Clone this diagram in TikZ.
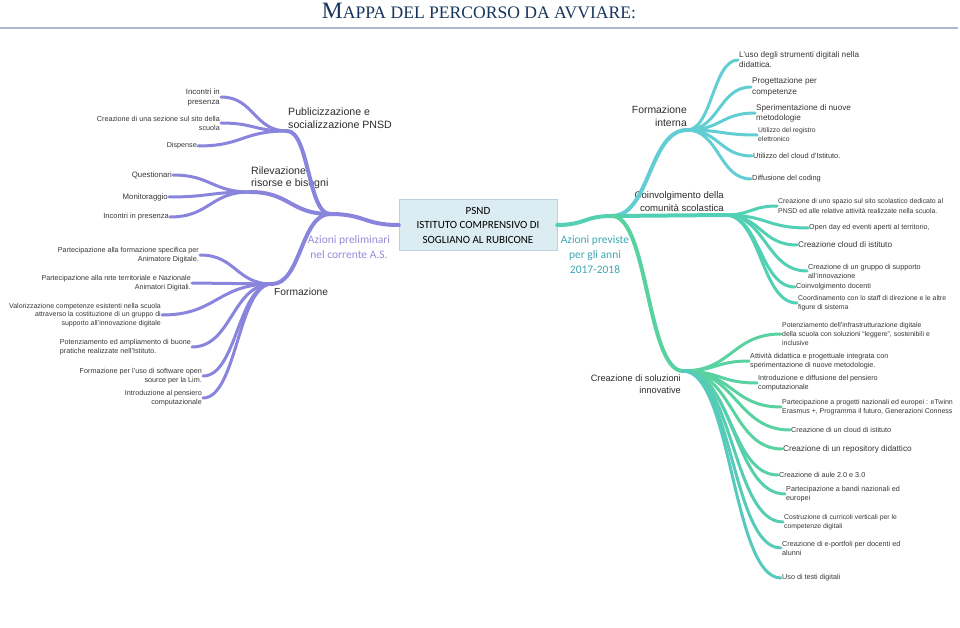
\documentclass[tikz,border=0pt]{standalone}
\usepackage{fontspec}
\setmainfont{Liberation Sans}
\newfontfamily\calfont{Carlito}
\newfontfamily\titlefont{Liberation Serif}
\usetikzlibrary{calc}
\definecolor{lv}{RGB}{137,132,220}
\definecolor{lvt}{RGB}{150,140,218}
\definecolor{rt}{RGB}{84,208,178}
\definecolor{ci}{RGB}{98,205,210}
\definecolor{cc}{RGB}{82,208,180}
\definecolor{cs}{RGB}{88,210,160}
\definecolor{cs2}{RGB}{85,200,195}
\definecolor{rtt}{RGB}{62,168,180}
\definecolor{txt}{RGB}{55,55,55}
\definecolor{hdt}{RGB}{45,45,45}
\definecolor{boxf}{RGB}{219,236,242}
\definecolor{boxd}{RGB}{185,210,220}
\definecolor{ttl}{RGB}{23,54,93}
\definecolor{tline}{RGB}{170,186,204}
\tikzset{
  lf/.style={font=\fontsize{7.2}{9}\selectfont, text=txt, inner sep=1pt},
  lfL/.style={lf, anchor=east, align=right},
  lfR/.style={lf, anchor=west, align=left},
  hd/.style={font=\fontsize{10.6}{12.5}\selectfont, text=hdt, inner sep=0pt},
  hdr/.style={font=\fontsize{9.6}{13}\selectfont, text=hdt, inner sep=0pt},
  trunk/.style={line width=4pt, line cap=round},
  twig/.style={line width=3pt, line cap=round},
  big/.style={font=\fontsize{8.2}{10}\selectfont},
}
\begin{document}
\begin{tikzpicture}[x=1pt,y=-1pt]
\useasboundingbox (0,0) rectangle (960,628);
\fill[white] (0,0) rectangle (960,628);

% title
\node[text=ttl, inner sep=0pt] (title) at (479,11) {\resizebox{314pt}{!}{\titlefont\fontsize{24}{24}\selectfont M\fontsize{18}{18}\selectfont APPA DEL PERCORSO DA AVVIARE:}};
\coordinate (tl) at (0,28);
\coordinate (tr) at (958,28);
\draw[line width=1.5pt, tline] (tl) -- (tr);

% center
\node[draw=boxd, fill=boxf, minimum width=158pt, minimum height=51pt, inner sep=0pt, align=center,
      font=\calfont\fontsize{11}{14.5}\selectfont, text=black] (c) at (478,225) {PSND\\ISTITUTO COMPRENSIVO DI\\SOGLIANO AL RUBICONE};

% junctions
\coordinate (L0) at (330,214);
\coordinate (jP) at (287,131);
\coordinate (jR) at (250,192);
\coordinate (jF) at (272,284);
\coordinate (R0) at (612,216);
\coordinate (jI) at (687,130);
\coordinate (jC) at (725,215);
\coordinate (jS) at (683,371);

% headings
\node[hd, anchor=west, align=left] (tP) at (288,118) {Publicizzazione e\\socializzazione PNSD};
\node[hd, anchor=west, align=left] (tR) at (251,178) {Rilevazione\\risorse e bisogni};
\node[hd, anchor=west, font=\fontsize{10.2}{12}\selectfont] (tF) at (274,292) {Formazione};
\node[font=\calfont\fontsize{11.5}{15}\selectfont, text=lvt, align=center, inner sep=0pt] (aL) at (349,247) {Azioni preliminari\\nel corrente A.S.};
\node[font=\calfont\fontsize{11.5}{15}\selectfont, text=rtt, align=center, inner sep=0pt] (aR) at (595,255) {Azioni previste\\per gli anni\\2017-2018};
\node[hdr, anchor=east, align=right, font=\fontsize{10.4}{13}\selectfont] (tI) at (687,116) {Formazione\\interna};
\node[hdr, anchor=east, align=right] (tC) at (724,202) {Coinvolgimento della\\comunità scolastica};
\node[hdr, anchor=east, align=right, font=\fontsize{9.2}{12}\selectfont] (tS) at (681,384) {Creazione di soluzioni\\innovative};

% trunks
\draw[trunk, lv] (c.west) .. controls +(-35,0) and +(35,0) .. (L0);
\draw[trunk, lv] (L0) .. controls +(-22,0) and +(22,0) .. (jP);
\draw[trunk, lv] (L0) .. controls +(-40,0) and +(40,0) .. (jR);
\draw[trunk, lv] (L0) .. controls +(-29,0) and +(29,0) .. (jF);
\draw[trunk, rt] (c.east) .. controls +(28,0) and +(-28,0) .. (R0);
\draw[trunk, ci] (R0) .. controls +(38,0) and +(-38,0) .. (jI);
\draw[trunk, cc] (R0) .. controls +(56,0) and +(-56,0) .. (jC);
\draw[trunk, cs] (R0) .. controls +(36,0) and +(-36,0) .. (jS);

% left leaves
\node[lfL, font=\fontsize{7.8}{10}\selectfont] (p1) at (221,97) {Incontri in\\presenza};
\node[lfL] (p2) at (221,123) {Creazione di una sezione sul sito della\\scuola};
\node[lfL] (p3) at (198,146) {Dispense};
\node[lfL, font=\fontsize{7.8}{9}\selectfont] (r1) at (173,175) {Questionari};
\node[lfL, font=\fontsize{7.8}{9}\selectfont] (r2) at (169,197) {Monitoraggio};
\node[lfL, font=\fontsize{7.5}{9}\selectfont] (r3) at (170,217) {Incontri in presenza};
\node[lfL] (f1) at (200,255) {Partecipazione alla formazione specifica per\\Animatore Digitale.};
\node[lfL] (f2) at (192,283) {Partecipazione alla rete territoriale e Nazionale\\Animatori Digitali.};
\node[lfL, font=\fontsize{7}{8.3}\selectfont] (f3) at (162,315) {Valorizzazione competenze esistenti nella scuola\\attraverso la costituzione di un gruppo di\\supporto all'innovazione digitale};
\node[lf, anchor=east, align=left] (f4) at (192,347) {Potenziamento ed ampliamento di buone\\pratiche realizzate nell'Istituto.};
\node[lfL] (f5) at (203,376) {Formazione per l'uso di software open\\source per la Lim.};
\node[lfL] (f6) at (203,398) {Introduzione al pensiero\\computazionale};

\draw[twig, lv] (jP) .. controls +(-33,0) and +(33,0) .. (p1.east);
\draw[twig, lv] (jP) .. controls +(-33,0) and +(33,0) .. (p2.east);
\draw[twig, lv] (jP) .. controls +(-45,0) and +(45,0) .. (p3.east);
\draw[twig, lv] (jR) .. controls +(-38,0) and +(38,0) .. (r1.east);
\draw[twig, lv] (jR) .. controls +(-40,0) and +(40,0) .. (r2.east);
\draw[twig, lv] (jR) .. controls +(-40,0) and +(40,0) .. (r3.east);
\draw[twig, lv] (jF) .. controls +(-36,0) and +(36,0) .. (f1.east);
\draw[twig, lv] (jF) .. controls +(-40,0) and +(40,0) .. (f2.east);
\draw[twig, lv] (jF) .. controls +(-55,0) and +(55,0) .. (f3.east);
\draw[twig, lv] (jF) .. controls +(-40,0) and +(40,0) .. (f4.east);
\draw[twig, lv] (jF) .. controls +(-34,0) and +(34,0) .. (f5.east);
\draw[twig, lv] (jF) .. controls +(-34,0) and +(34,0) .. (f6.east);

% right: formazione interna
\node[lfR, font=\fontsize{8.2}{10}\selectfont] (i1) at (738,60) {L'uso degli strumenti digitali nella\\didattica.};
\node[lfR, font=\fontsize{8.2}{10.5}\selectfont] (i2) at (751,87) {Progettazione per\\competenze};
\node[lfR, font=\fontsize{8.2}{10}\selectfont] (i3) at (755,113) {Sperimentazione di nuove\\metodologie};
\node[lfR, font=\fontsize{6.8}{9}\selectfont] (i4) at (757,135) {Utilizzo del registro\\elettronico};
\node[lfR, font=\fontsize{7.4}{9}\selectfont] (i5) at (752,156) {Utilizzo del cloud d'Istituto.};
\node[lfR, font=\fontsize{7.4}{9}\selectfont] (i6) at (751,179) {Diffusione del coding};
\draw[twig, ci] (jI) .. controls +(25,0) and +(-25,0) .. (i1.west);
\draw[twig, ci] (jI) .. controls +(32,0) and +(-32,0) .. (i2.west);
\draw[twig, ci] (jI) .. controls +(34,0) and +(-34,0) .. (i3.west);
\draw[twig, ci] (jI) .. controls +(35,0) and +(-35,0) .. (i4.west);
\draw[twig, ci] (jI) .. controls +(32,0) and +(-32,0) .. (i5.west);
\draw[twig, ci] (jI) .. controls +(32,0) and +(-32,0) .. (i6.west);

% right: coinvolgimento
\node[lfR, font=\fontsize{6.9}{9.5}\selectfont] (k1) at (777,206) {Creazione di uno spazio sul sito scolastico dedicato al\\PNSD ed alle relative attività realizzate nella scuola.};
\node[lfR] (k2) at (808,228) {Open day ed eventi aperti al territorio,};
\node[lfR, big] (k3) at (797,245) {Creazione cloud di istituto};
\node[lfR] (k4) at (807,271) {Creazione di un gruppo di supporto\\all'innovazione};
\node[lfR] (k5) at (795,287) {Coinvolgimento docenti};
\node[lfR, font=\fontsize{6.9}{9}\selectfont] (k6) at (797,303) {Coordinamento con lo staff di direzione e le altre\\figure di sistema};
\draw[twig, cc] (jC) .. controls +(26,0) and +(-26,0) .. (k1.west);
\draw[twig, cc] (jC) .. controls +(42,0) and +(-42,0) .. (k2.west);
\draw[twig, cc] (jC) .. controls +(36,0) and +(-36,0) .. (k3.west);
\draw[twig, cc] (jC) .. controls +(41,0) and +(-41,0) .. (k4.west);
\draw[twig, cc] (jC) .. controls +(35,0) and +(-35,0) .. (k5.west);
\draw[twig, cc] (jC) .. controls +(36,0) and +(-36,0) .. (k6.west);

% right: soluzioni innovative
\node[lfR, font=\fontsize{6.9}{8.6}\selectfont] (s1) at (781,334) {Potenziamento dell'infrastrutturazione digitale\\della scuola con soluzioni ``leggere'', sostenibili e\\inclusive};
\node[lfR] (s2) at (749,361) {Attività didattica e progettuale integrata con\\sperimentazione di nuove metodologie.};
\node[lfR] (s3) at (757,383) {Introduzione e diffusione del pensiero\\computazionale};
\node[lfR, font=\fontsize{7}{9}\selectfont] (s4) at (781,407) {Partecipazione a progetti nazionali ed europei : eTwinn\\Erasmus +, Programma il futuro, Generazioni Conness};
\node[lfR] (s5) at (790,430) {Creazione di un cloud di istituto};
\node[lfR, big] (s6) at (782,449) {Creazione di un repository didattico};
\node[lfR] (s7) at (778,475) {Creazione di aule 2.0 e 3.0};
\node[lfR] (s8) at (785,494) {Partecipazione a bandi nazionali ed\\europei};
\node[lfR, font=\fontsize{6.8}{9}\selectfont] (s9) at (783,522) {Costruzione di curricoli verticali per le\\competenze digitali};
\node[lfR] (s10) at (781,548) {Creazione di e-portfoli per docenti ed\\alunni};
\node[lfR] (s11) at (781,578) {Uso di testi digitali};
\draw[twig, cs] (jS) .. controls +(49,0) and +(-49,0) .. (s1.west);
\draw[twig, cs] (jS) .. controls +(33,0) and +(-33,0) .. (s2.west);
\draw[twig, cs] (jS) .. controls +(37,0) and +(-37,0) .. (s3.west);
\draw[twig, cs] (jS) .. controls +(49,0) and +(-49,0) .. (s4.west);
\draw[twig, cs] (jS) .. controls +(53,0) and +(-53,0) .. (s5.west);
\draw[twig, cs] (jS) .. controls +(50,0) and +(-50,0) .. (s6.west);
\draw[twig, cs!80!cs2] (jS) .. controls +(48,0) and +(-48,0) .. (s7.west);
\draw[twig, cs!65!cs2] (jS) .. controls +(51,0) and +(-51,0) .. (s8.west);
\draw[twig, cs!50!cs2] (jS) .. controls +(50,0) and +(-50,0) .. (s9.west);
\draw[twig, cs!35!cs2] (jS) .. controls +(49,0) and +(-49,0) .. (s10.west);
\draw[twig, cs!20!cs2] (jS) .. controls +(49,0) and +(-49,0) .. (s11.west);
\end{tikzpicture}
\end{document}
